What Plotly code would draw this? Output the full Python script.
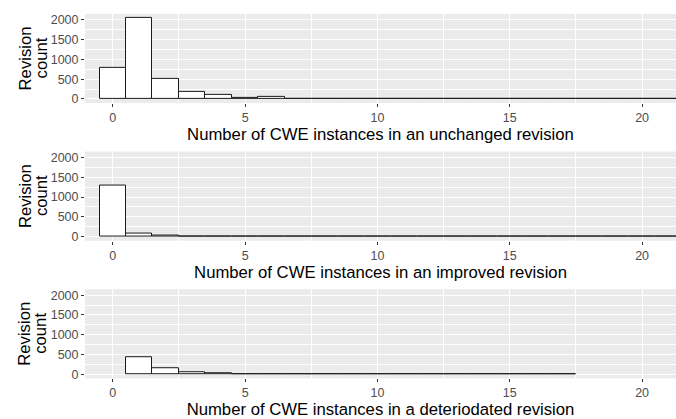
import plotly.graph_objects as go
from plotly.subplots import make_subplots

# Data: revision counts by number of CWE instances
unchanged_x = list(range(0, 22))
unchanged_y = [795, 2049, 500, 189, 98, 28, 42, 12, 10, 6, 5, 4, 3, 3, 3, 3, 3, 2, 2, 2, 3, 2]

improved_x = list(range(0, 22))
improved_y = [1285, 73, 25, 8, 8, 5, 7, 7, 3, 3, 3, 3, 2, 2, 2, 2, 2, 2, 2, 2, 2, 2]

deteriorated_x = list(range(1, 18))
deteriorated_y = [440, 155, 58, 40, 15, 12, 10, 5, 5, 4, 4, 3, 3, 2, 2, 3, 3]

titles = [
    "Number of CWE instances in an unchanged revision",
    "Number of CWE instances in an improved revision",
    "Number of CWE instances in a deteriodated revision",
]
ytitle_lines = ["Revision", "count"]
series = [(unchanged_x, unchanged_y), (improved_x, improved_y), (deteriorated_x, deteriorated_y)]

H = 419.0
W_PLOT = 591.0
panels_px = [(13, 103), (152, 242), (291, 381)]
ytitle_x_px = [25, 41]

fig = make_subplots(rows=3, cols=1)
for i, (xs, ys) in enumerate(series, start=1):
    fig.add_trace(go.Bar(x=xs, y=ys, width=1.0, marker=dict(color="white", line=dict(color="#1a1a1a", width=1)),
                         showlegend=False), row=i, col=1)

FONT = "Liberation Sans, Arial, sans-serif"
for i in range(3):
    top, bot = panels_px[i]
    ax = "" if i == 0 else str(i + 1)
    fig.layout["yaxis" + ax].update(
        domain=[1 - bot / H, 1 - top / H],
        range=[-102, 2151],
        tickvals=[0, 500, 1000, 1500, 2000],
        ticks="outside", ticklen=3, tickcolor="#333333",
        tickfont=dict(size=12.5, color="#4d4d4d", family=FONT),
        showgrid=True, gridcolor="white", gridwidth=1.1,
        minor=dict(tickvals=[250, 750, 1250, 1750], showgrid=True, gridcolor="white", gridwidth=0.5),
        zeroline=False, showline=False,
    )
    fig.layout["xaxis" + ax].update(
        domain=[0, 1],
        range=[-1.05, 21.28],
        tickvals=[0, 5, 10, 15, 20],
        ticks="outside", ticklen=3, tickcolor="#333333",
        tickfont=dict(size=12.5, color="#4d4d4d", family=FONT),
        showgrid=True, gridcolor="white", gridwidth=1.1,
        minor=dict(tickvals=[2.5, 7.5, 12.5, 17.5], showgrid=True, gridcolor="white", gridwidth=0.5),
        zeroline=False, showline=False,
        title=dict(text=titles[i], font=dict(size=16.7, color="black", family=FONT), standoff=2),
    )
    # y-axis title as two rotated lines
    for line, xpx in zip(ytitle_lines, ytitle_x_px):
        fig.add_annotation(
            text=line, xref="paper", yref="paper",
            x=(xpx - 85) / W_PLOT, y=1 - (top + bot) / 2 / H,
            xanchor="center", yanchor="middle", textangle=-90, showarrow=False,
            font=dict(size=16.7, color="black", family=FONT),
        )

fig.update_layout(
    width=676, height=419,
    margin=dict(l=85, r=0, t=0, b=0),
    paper_bgcolor="white", plot_bgcolor="#ebebeb",
    bargap=0,
    font=dict(family=FONT),
)
fig.write_html("out.html")
